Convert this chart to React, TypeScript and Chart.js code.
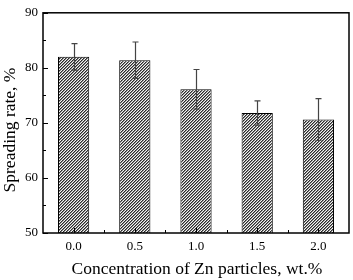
import React, { useEffect, useRef } from "react";
import { Chart, registerables } from "chart.js";
Chart.register(...registerables);

const categories = ["0.0", "0.5", "1.0", "1.5", "2.0"];
const spreadingRate = [82.0, 81.4, 76.1, 71.8, 70.6];
const errors = [2.4, 3.3, 3.6, 2.2, 3.8];
const yMin = 50;
const yMax = 90;
const yStep = 5;
const xTitle = "Concentration of Zn particles, wt.%";
const yTitle = "Spreading rate, %";

const FONT = "'Liberation Serif', 'Times New Roman', serif";

function makePattern(): CanvasPattern | string {
  const c = document.createElement("canvas");
  const n = 3;
  c.width = n;
  c.height = n;
  const g = c.getContext("2d");
  if (!g) return "#888";
  for (let x = 0; x < n; x++) {
    for (let y = 0; y < n; y++) {
      const k = (x + y) % n;
      g.fillStyle = k === 0 ? "#2a2a2a" : k === 1 ? "#8a8a8a" : "#f4f4f4";
      g.fillRect(x, y, 1, 1);
    }
  }
  const p = g.createPattern(c, "repeat");
  return p || "#888";
}

const decorPlugin = {
  id: "decor",
  afterDatasetsDraw(chart: any) {
    const ctx = chart.ctx;
    const ys = chart.scales.y;
    const meta = chart.getDatasetMeta(0);
    ctx.save();
    ctx.strokeStyle = "#444";
    ctx.lineWidth = 1.2;
    meta.data.forEach((bar: any, i: number) => {
      const x = Math.round(bar.x) + 0.5;
      const top = ys.getPixelForValue(spreadingRate[i] + errors[i]);
      const bot = ys.getPixelForValue(spreadingRate[i] - errors[i]);
      ctx.beginPath();
      ctx.moveTo(x, top);
      ctx.lineTo(x, bot);
      ctx.moveTo(x - 3, top);
      ctx.lineTo(x + 3, top);
      ctx.moveTo(x - 3, bot);
      ctx.lineTo(x + 3, bot);
      ctx.stroke();
    });
    ctx.restore();
  },
  afterDraw(chart: any) {
    const ctx = chart.ctx;
    const a = chart.chartArea;
    const xs = chart.scales.x;
    const ys = chart.scales.y;
    ctx.save();
    ctx.strokeStyle = "#000";
    ctx.lineWidth = 1.5;
    ctx.strokeRect(a.left, a.top, a.right - a.left, a.bottom - a.top);
    ctx.lineWidth = 1;
    for (let v = yMin; v <= yMax; v += yStep) {
      const y = Math.round(ys.getPixelForValue(v)) + 0.5;
      const len = v % 10 === 0 ? 5 : 3;
      ctx.beginPath();
      ctx.moveTo(a.left, y);
      ctx.lineTo(a.left + len, y);
      ctx.stroke();
    }
    const n = categories.length;
    for (let i = 0; i < n; i++) {
      const x = Math.round(xs.getPixelForValue(i)) + 0.5;
      ctx.beginPath();
      ctx.moveTo(x, a.bottom);
      ctx.lineTo(x, a.bottom - 5);
      ctx.stroke();
      if (i < n - 1) {
        const xm = Math.round((xs.getPixelForValue(i) + xs.getPixelForValue(i + 1)) / 2) + 0.5;
        ctx.beginPath();
        ctx.moveTo(xm, a.bottom);
        ctx.lineTo(xm, a.bottom - 3);
        ctx.stroke();
      }
    }
    ctx.fillStyle = "#000";
    ctx.font = `17.5px ${FONT}`;
    ctx.textAlign = "center";
    ctx.textBaseline = "middle";
    ctx.fillText(xTitle, 197, 269);
    ctx.translate(10, 130);
    ctx.rotate(-Math.PI / 2);
    ctx.fillText(yTitle, 0, 0);
    ctx.restore();
  },
};

export default function App() {
  const ref = useRef<HTMLCanvasElement | null>(null);
  useEffect(() => {
    document.body.style.margin = "0";
    const canvas = ref.current;
    if (!canvas) return;
    const chart = new Chart(canvas, {
      type: "bar",
      data: {
        labels: categories,
        datasets: [
          {
            data: spreadingRate,
            backgroundColor: makePattern() as any,
            borderColor: "#000",
            borderWidth: 1,
            categoryPercentage: 1,
            barPercentage: 0.51,
          },
        ],
      },
      options: {
        responsive: false,
        animation: false,
        events: [],
        layout: { padding: { top: 7, right: 4, left: 0, bottom: 0 } },
        plugins: { legend: { display: false }, tooltip: { enabled: false } },
        scales: {
          x: {
            grid: { display: false, drawTicks: false },
            border: { display: false },
            ticks: {
              padding: 6,
              color: "#000",
              font: { family: FONT, size: 13 },
              maxRotation: 0,
            },
            afterFit: (s: any) => {
              s.height = 47;
            },
          },
          y: {
            min: yMin,
            max: yMax,
            grid: { display: false, drawTicks: false },
            border: { display: false },
            ticks: {
              stepSize: yStep,
              padding: 5,
              color: "#000",
              font: { family: FONT, size: 13 },
              callback: (v: any) => (Number(v) % 10 === 0 ? String(v) : ""),
            },
            afterFit: (s: any) => {
              s.width = 43;
            },
          },
        },
      },
      plugins: [decorPlugin],
    });
    return () => chart.destroy();
  }, []);
  return <canvas ref={ref} width={353} height={280} style={{ display: "block" }} />;
}
